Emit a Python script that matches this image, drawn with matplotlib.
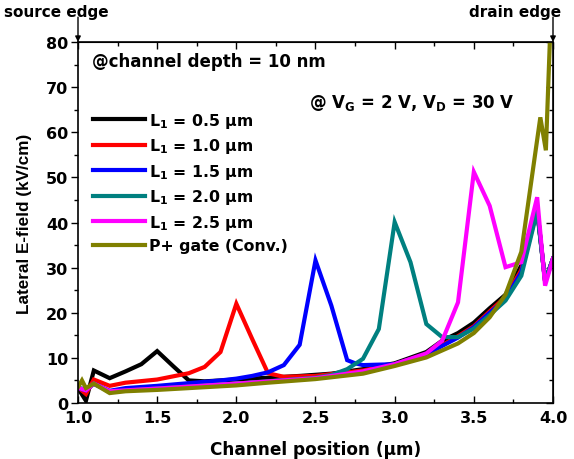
import matplotlib
matplotlib.use("Agg")
import matplotlib.pyplot as plt
from matplotlib.ticker import MultipleLocator, FormatStrFormatter
from matplotlib import font_manager

plt.rcParams['font.family'] = ['DejaVu Sans']
plt.rcParams['font.weight'] = 'bold'
plt.rcParams['mathtext.default'] = 'regular'

names = {f.name for f in font_manager.fontManager.ttflist}
narrow = 'Liberation Sans Narrow' in names

labels = ["L$_1$ = 0.5 μm", "L$_1$ = 1.0 μm", "L$_1$ = 1.5 μm",
          "L$_1$ = 2.0 μm", "L$_1$ = 2.5 μm", "P+ gate (Conv.)"]
colors = ["#000000", "#FF0000", "#0000FF", "#008080", "#FF00FF", "#808000"]

x_l05 = [1.0, 1.05, 1.1, 1.2, 1.3, 1.4, 1.5, 1.6, 1.7, 1.8, 2.0, 2.2, 2.4, 2.6, 2.8, 3.0, 3.2, 3.3, 3.4, 3.5, 3.6, 3.7, 3.8, 3.9, 3.95, 4.0]
y_l05 = [3.3, 0.5, 7.2, 5.5, 7.0, 8.6, 11.5, 8.2, 5.0, 4.8, 5.2, 5.6, 6.0, 6.5, 7.5, 8.8, 11.3, 13.8, 15.5, 17.8, 21.0, 24.0, 30.5, 43.0, 27.0, 32.0]

x_l10 = [1.0, 1.05, 1.1, 1.2, 1.3, 1.5, 1.7, 1.8, 1.9, 2.0, 2.1, 2.2, 2.3, 2.5, 2.8, 3.0, 3.2, 3.4, 3.5, 3.6, 3.7, 3.8, 3.9, 3.95, 4.0]
y_l10 = [3.5, 2.0, 5.2, 3.8, 4.5, 5.2, 6.6, 8.0, 11.3, 22.0, 14.2, 6.6, 5.8, 6.0, 7.2, 8.6, 10.8, 14.8, 17.0, 20.3, 23.5, 29.5, 43.0, 27.0, 32.0]

x_l15 = [1.0, 1.05, 1.1, 1.2, 1.3, 1.5, 1.7, 1.9, 2.0, 2.1, 2.2, 2.3, 2.4, 2.5, 2.6, 2.7, 2.75, 2.8, 3.0, 3.2, 3.4, 3.5, 3.6, 3.7, 3.8, 3.9, 3.95, 4.0]
y_l15 = [3.3, 2.8, 4.3, 2.7, 3.3, 3.8, 4.4, 5.0, 5.4, 6.0, 6.8, 8.4, 12.9, 31.6, 21.6, 9.5, 8.8, 8.4, 8.6, 10.8, 14.5, 16.8, 20.0, 23.0, 29.0, 43.0, 27.0, 32.0]

x_l20 = [1.0, 1.05, 1.1, 1.2, 1.5, 2.0, 2.5, 2.6, 2.7, 2.8, 2.9, 3.0, 3.1, 3.2, 3.3, 3.4, 3.5, 3.6, 3.7, 3.8, 3.9, 3.95, 4.0]
y_l20 = [3.4, 3.0, 4.2, 2.5, 3.2, 4.3, 5.6, 6.2, 7.5, 9.8, 16.4, 40.1, 31.2, 17.5, 14.6, 14.6, 16.5, 19.5, 22.7, 28.2, 42.5, 27.0, 32.0]

x_l25 = [1.0, 1.05, 1.1, 1.2, 1.5, 2.0, 2.5, 2.8, 3.0, 3.2, 3.3, 3.4, 3.5, 3.6, 3.7, 3.8, 3.9, 3.95, 4.0]
y_l25 = [3.4, 2.8, 4.3, 2.6, 3.2, 4.3, 5.5, 7.0, 8.6, 11.0, 13.8, 22.3, 51.2, 43.7, 30.1, 31.2, 45.6, 26.0, 32.0]

x_conv = [1.0, 1.025, 1.05, 1.1, 1.2, 1.3, 1.5, 1.7, 2.0, 2.2, 2.5, 2.8, 3.0, 3.2, 3.4, 3.5, 3.6, 3.7, 3.8, 3.92, 3.955, 3.98]
y_conv = [3.5, 5.0, 3.3, 4.3, 2.2, 2.6, 2.9, 3.3, 3.9, 4.5, 5.3, 6.5, 8.2, 10.1, 13.2, 15.5, 19.0, 24.0, 33.5, 63.3, 56.0, 80.0]

series_x = [x_l05, x_l10, x_l15, x_l20, x_l25, x_conv]
series_y = [y_l05, y_l10, y_l15, y_l20, y_l25, y_conv]

fig = plt.figure(figsize=(5.74, 4.60), dpi=100)
ax = fig.add_axes([78/574, 1 - 404/460, 475/574, 361/460])

for xs, ys, c, lab in zip(series_x, series_y, colors, labels):
    ax.plot(xs, ys, color=c, lw=3, label=lab, solid_joinstyle='miter')

ax.set_xlim(1.0, 4.0)
ax.set_ylim(0, 80)
ax.xaxis.set_major_locator(MultipleLocator(0.5))
ax.xaxis.set_minor_locator(MultipleLocator(0.25))
ax.xaxis.set_major_formatter(FormatStrFormatter('%.1f'))
ax.yaxis.set_major_locator(MultipleLocator(10))
ax.yaxis.set_minor_locator(MultipleLocator(5))
ax.tick_params(axis='x', which='both', direction='in', labelsize=11.5, pad=5)
ax.tick_params(axis='y', which='both', direction='out', labelsize=11.5, pad=2)
ax.tick_params(which='major', length=5, width=1)
ax.tick_params(which='minor', length=3, width=1)
for lab in ax.get_xticklabels() + ax.get_yticklabels():
    lab.set_fontweight('bold')

sx = ax.secondary_xaxis('top')
sx.xaxis.set_major_locator(MultipleLocator(0.5))
sx.xaxis.set_minor_locator(MultipleLocator(0.25))
sx.tick_params(which='both', direction='in', labeltop=False)
sx.tick_params(which='major', length=5, width=1)
sx.tick_params(which='minor', length=3, width=1)
sy = ax.secondary_yaxis('right')
sy.yaxis.set_major_locator(MultipleLocator(10))
sy.yaxis.set_minor_locator(MultipleLocator(5))
sy.tick_params(which='both', direction='in', labelright=False)
sy.tick_params(which='major', length=5, width=1)
sy.tick_params(which='minor', length=3, width=1)

for sp in ax.spines.values():
    sp.set_linewidth(1.2)

ax.set_xlabel("Channel position (μm)", fontsize=12.2, fontweight='bold', labelpad=11)
if narrow:
    ax.set_ylabel("Lateral E-field (kV/cm)", fontsize=14, fontweight='bold', labelpad=9,
                  family=['Liberation Sans Narrow', 'Liberation Sans'])
else:
    ax.set_ylabel("Lateral E-field (kV/cm)", fontsize=12.3, fontweight='bold', labelpad=10,
                  family=['Liberation Sans', 'DejaVu Sans'])

leg = ax.legend(loc='upper left', bbox_to_anchor=(0.005, 0.845), frameon=False,
                handlelength=3.3, handletextpad=0.3, labelspacing=0.42,
                prop={'size': 11.3, 'weight': 'bold'}, borderaxespad=0.4)

fig.text(92/574, 1 - 62/460, "@channel depth = 10 nm", fontsize=12,
         fontweight='bold', va='center', ha='left')
fig.text(309/574, 1 - 103/460, "@ V$_G$ = 2 V, V$_D$ = 30 V",
         fontsize=12, fontweight='bold', va='center', ha='left')

fig.text(56/574, 1 - 13/460, "source edge", ha='center', va='center',
         fontsize=11, fontweight='bold')
fig.text(515/574, 1 - 13/460, "drain edge", ha='center', va='center',
         fontsize=11, fontweight='bold')
for xe in (1.0, 4.0):
    ax.annotate("", xy=(xe, 80), xytext=(xe, 85.5), xycoords='data', textcoords='data',
                annotation_clip=False,
                arrowprops=dict(arrowstyle='-|>', color='black', lw=1, mutation_scale=8,
                                shrinkA=0, shrinkB=0))

fig.savefig("out.png", dpi=100)
